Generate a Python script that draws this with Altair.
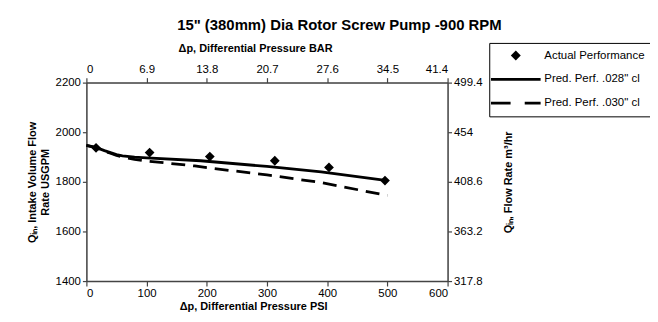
import altair as alt
import pandas as pd

# ---- data ----
act_psi = [16, 105, 205, 313, 403, 496]
act_gpm = [1937, 1918, 1902, 1885, 1858, 1805]

p028_psi = [0, 10, 20, 30, 40, 50, 60, 80, 100, 190, 300, 390, 500]
p028_gpm = [1947, 1942, 1935, 1926, 1918, 1910, 1905, 1900, 1897, 1885, 1862, 1840, 1805]

p030_psi = [0, 10, 20, 30, 40, 50, 60, 80, 100, 180, 200, 300, 390, 500]
p030_gpm = [1947, 1941, 1933, 1924, 1915, 1906, 1900, 1891, 1884, 1864, 1857, 1828, 1797, 1745]

series_names = ["Actual Performance", 'Pred. Perf. .028" cl', 'Pred. Perf. .030" cl']

psi_ticks = [0, 100, 200, 300, 400, 500, 600]
gpm_ticks = [1400, 1600, 1800, 2000, 2200]
bar_ticks = [0, 6.9, 13.8, 20.7, 27.6, 34.5, 41.4]
m3_ticks = [317.8, 363.2, 408.6, 454, 499.4]

FONT = "Liberation Sans"

act_df = pd.DataFrame({"psi": act_psi, "gpm": act_gpm, "series": series_names[0]})
s028_df = pd.DataFrame({"psi": p028_psi, "gpm": p028_gpm})
s030_df = pd.DataFrame({"psi": p030_psi, "gpm": p030_gpm})
sec_df = pd.DataFrame({"bar": [bar_ticks[0], bar_ticks[-1]], "m3": [m3_ticks[0], m3_ticks[-1]]})

axis_common = dict(
    labelFont=FONT, labelFontSize=11.5, labelColor="black", labelExpr="'' + datum.value",
    titleFont=FONT, titleFontSize=11, titleFontWeight="bold", titleColor="black",
    domainColor="#444", domainWidth=1.5, tickColor="#444", tickWidth=1.2,
    grid=False,
)

xs = alt.X("psi:Q", scale=alt.Scale(domain=[0, 600], nice=False),
           axis=alt.Axis(values=psi_ticks, orient="bottom", title="Δp, Differential Pressure PSI",
                         tickSize=5, labelPadding=2, titlePadding=1, titleX=168, **axis_common))
ys = alt.Y("gpm:Q", scale=alt.Scale(domain=[1400, 2200], nice=False, zero=False),
           axis=alt.Axis(values=gpm_ticks, orient="left",
                         title=["Qᵢₙ, Intake Volume Flow", "Rate  USGPM"],
                         tickSize=4, labelPadding=2, titlePadding=5, **axis_common))

# legend glyphs: filled diamond, filled thin bar (solid line), two filled bars (dashed line)
shape_scale = alt.Scale(
    domain=series_names,
    range=[
        "diamond",
        "M-5,-0.28H5V0.28H-5Z",
        "M-5,-0.28H-1.05V0.28H-5ZM1.8,-0.28H5V0.28H1.8Z",
    ],
)

points = alt.Chart(act_df).mark_point(filled=True, color="black", stroke="black", strokeWidth=2.5,
                                      size=40, opacity=1).encode(
    x=xs, y=ys,
    shape=alt.Shape("series:N", scale=shape_scale,
                    legend=alt.Legend(
                        title=None, orient="none", legendX=406, legendY=-40,
                        strokeColor="black", fillColor="white", padding=7,
                        labelFont=FONT, labelFontSize=11.5, labelColor="black",
                        labelOffset=23, symbolOffset=14, rowPadding=11,
                        symbolSize=100, symbolFillColor="black", symbolStrokeWidth=0,
                        symbolOpacity=1,
                    )),
)

solid = alt.Chart(s028_df).mark_line(color="black", strokeWidth=2.8).encode(x=xs, y=ys)
dashed = alt.Chart(s030_df).mark_line(color="black", strokeWidth=2.8, strokeDash=[14, 8]).encode(x=xs, y=ys)

primary = alt.layer(solid, dashed, points)

secondary = alt.Chart(sec_df).mark_point(opacity=0).encode(
    x=alt.X("bar:Q", scale=alt.Scale(domain=[0, 41.4], nice=False),
            axis=alt.Axis(values=bar_ticks, orient="top", title="Δp, Differential Pressure BAR",
                          tickSize=5, labelPadding=3, titlePadding=10, titleX=170, **axis_common)),
    y=alt.Y("m3:Q", scale=alt.Scale(domain=[317.8, 499.4], nice=False, zero=False),
            axis=alt.Axis(values=m3_ticks, orient="right", title="Qᵢₙ, Flow Rate m³/hr",
                          titleAngle=270, tickSize=4, labelPadding=2, titlePadding=32, **axis_common)),
)

chart = alt.layer(primary, secondary).resolve_scale(x="independent", y="independent").properties(
    width=364, height=200,
    title=alt.TitleParams('15" (380mm) Dia Rotor Screw Pump -900 RPM', font=FONT, fontSize=15,
                          fontWeight="bold", color="black", anchor="middle", frame="bounds", offset=10),
    autosize=alt.AutoSizeParams(type="none"),
    padding={"left": 79, "top": 74, "right": 204, "bottom": 32},
).configure_view(stroke=None).configure(background="white")

chart.save("out.html", embed_options={"renderer": "svg", "actions": False})
